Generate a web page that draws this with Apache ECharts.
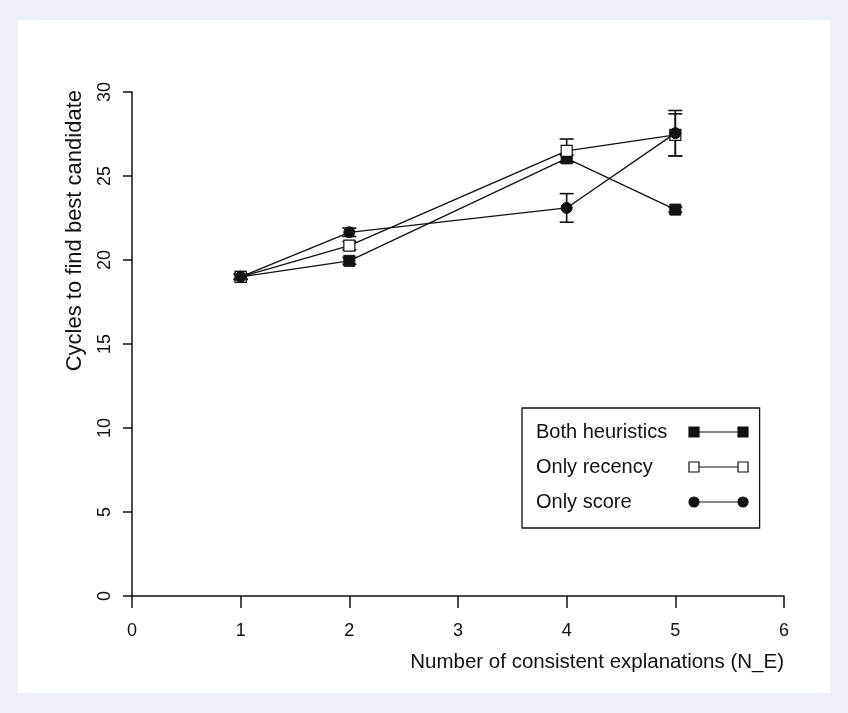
<!DOCTYPE html>
<html>
<head>
<meta charset="utf-8">
<script src="https://cdn.jsdelivr.net/npm/echarts@6/dist/echarts.min.js"></script>
<style>
html,body{margin:0;padding:0;background:#eef0f8;}
#panel{position:absolute;left:18px;top:20px;width:812px;height:673px;background:#fff;}
#chart{position:absolute;left:0;top:0;width:848px;height:713px;}
</style>
</head>
<body>
<div id="panel"></div>
<div id="chart"></div>
<script>
// ---- data ----
const xValues = [1, 2, 4, 5];
const seriesNames = ['Both heuristics', 'Only recency', 'Only score'];
const bothMean = [19.0, 19.95, 26.05, 23.0];
const bothErr = [0.15, 0.2, 0.2, 0.15];
const recencyMean = [19.0, 20.85, 26.5, 27.45];
const recencyErr = [0.15, 0.25, 0.7, 1.25];
const scoreMean = [19.0, 21.65, 23.1, 27.55];
const scoreErr = [0.15, 0.25, 0.85, 1.35];
const xTicks = [0, 1, 2, 3, 4, 5, 6];
const yTicks = [0, 5, 10, 15, 20, 25, 30];

const FONT = 'Liberation Sans, Arial, Helvetica, sans-serif';

function pairs(means) { return xValues.map((x, i) => [x, means[i]]); }
function errRows(means, errs) { return xValues.map((x, i) => [x, means[i] - errs[i], means[i] + errs[i]]); }

function errorRender(params, api) {
  const x = api.value(0);
  const lo = api.coord([x, api.value(1)]);
  const hi = api.coord([x, api.value(2)]);
  const cap = 7;
  const style = { stroke: '#111', lineWidth: 1.6 };
  return {
    type: 'group',
    children: [
      { type: 'line', shape: { x1: lo[0], y1: lo[1], x2: hi[0], y2: hi[1] }, style },
      { type: 'line', shape: { x1: lo[0] - cap, y1: lo[1], x2: lo[0] + cap, y2: lo[1] }, style },
      { type: 'line', shape: { x1: hi[0] - cap, y1: hi[1], x2: hi[0] + cap, y2: hi[1] }, style }
    ]
  };
}

const sqIcon = 'path://M0 0 L10 0 L10 10 L0 10 Z M10 5 L49 5 M49 0 L59 0 L59 10 L49 10 Z';
const circIcon = 'path://M0 5 A5 5 0 1 1 10 5 A5 5 0 1 1 0 5 Z M10 5 L49 5 M49 5 A5 5 0 1 1 59 5 A5 5 0 1 1 49 5 Z';

const lineStyle = { color: '#111', width: 1.3 };

const chart = echarts.init(document.getElementById('chart'), null, { renderer: 'canvas' });
chart.setOption({
  backgroundColor: 'transparent',
  animation: false,
  grid: { left: 132, right: 64, top: 92, bottom: 117, containLabel: false, outerBoundsMode: 'none' },
  xAxis: {
    type: 'value', min: xTicks[0], max: xTicks[xTicks.length - 1], interval: 1,
    name: 'Number of consistent explanations (N_E)',
    nameLocation: 'end', nameGap: 0, nameMoveOverlap: false,
    nameTextStyle: { fontFamily: FONT, fontSize: 20.5, color: '#111', align: 'right', verticalAlign: 'top', padding: [56, 0, 0, 0] },
    axisLine: { show: true, onZero: false, lineStyle: { color: '#111', width: 1.5 } },
    axisTick: { show: true, length: 12, lineStyle: { color: '#111', width: 1.5 } },
    axisLabel: { fontFamily: FONT, fontSize: 18, color: '#111', margin: 26 },
    splitLine: { show: false }
  },
  yAxis: {
    type: 'value', min: yTicks[0], max: yTicks[yTicks.length - 1], interval: 5,
    name: 'Cycles to find best candidate',
    nameLocation: 'end', nameGap: 2, nameRotate: 90, nameMoveOverlap: false,
    nameTextStyle: { fontFamily: FONT, fontSize: 22, color: '#111', align: 'right', verticalAlign: 'bottom', padding: [0, 0, 46, 0] },
    axisLine: { show: true, onZero: false, lineStyle: { color: '#111', width: 1.5 } },
    axisTick: { show: true, length: 9, lineStyle: { color: '#111', width: 1.5 } },
    axisLabel: { fontFamily: FONT, fontSize: 18, color: '#111', rotate: 90, margin: 18 },
    splitLine: { show: false }
  },
  legend: {
    orient: 'vertical', left: 522, top: 408, align: 'right',
    padding: [14, 11, 16, 14], itemGap: 15, itemWidth: 59, itemHeight: 10,
    borderColor: '#111', borderWidth: 1.3, backgroundColor: '#fff',
    formatter: '{a|{name}}',
    textStyle: { fontFamily: FONT, fontSize: 20, color: '#111',
      rich: { a: { width: 148, align: 'left', fontFamily: FONT, fontSize: 20, lineHeight: 20, color: '#111' } } },
    itemStyle: { borderWidth: 1.2, borderColor: '#111' },
    data: [
      { name: seriesNames[0], icon: sqIcon },
      { name: seriesNames[1], icon: sqIcon },
      { name: seriesNames[2], icon: circIcon }
    ]
  },
  series: [
    { name: 'err-both', type: 'custom', renderItem: errorRender, encode: { x: 0, y: [1, 2] }, data: errRows(bothMean, bothErr), z: 1 },
    { name: 'err-recency', type: 'custom', renderItem: errorRender, encode: { x: 0, y: [1, 2] }, data: errRows(recencyMean, recencyErr), z: 1 },
    { name: 'err-score', type: 'custom', renderItem: errorRender, encode: { x: 0, y: [1, 2] }, data: errRows(scoreMean, scoreErr), z: 1 },
    { name: seriesNames[0], type: 'line', data: pairs(bothMean), symbol: 'rect', symbolSize: 11, showAllSymbol: true,
      lineStyle, itemStyle: { color: '#111', borderColor: '#111', borderWidth: 1 }, z: 3 },
    { name: seriesNames[1], type: 'line', data: pairs(recencyMean), symbol: 'rect', symbolSize: 11, showAllSymbol: true,
      lineStyle, itemStyle: { color: '#fff', borderColor: '#111', borderWidth: 1.2 }, z: 4 },
    { name: seriesNames[2], type: 'line', data: pairs(scoreMean), symbol: 'circle', symbolSize: 11, showAllSymbol: true,
      lineStyle, itemStyle: { color: '#111', borderColor: '#111', borderWidth: 1 }, z: 5 }
  ]
});
</script>
</body>
</html>
